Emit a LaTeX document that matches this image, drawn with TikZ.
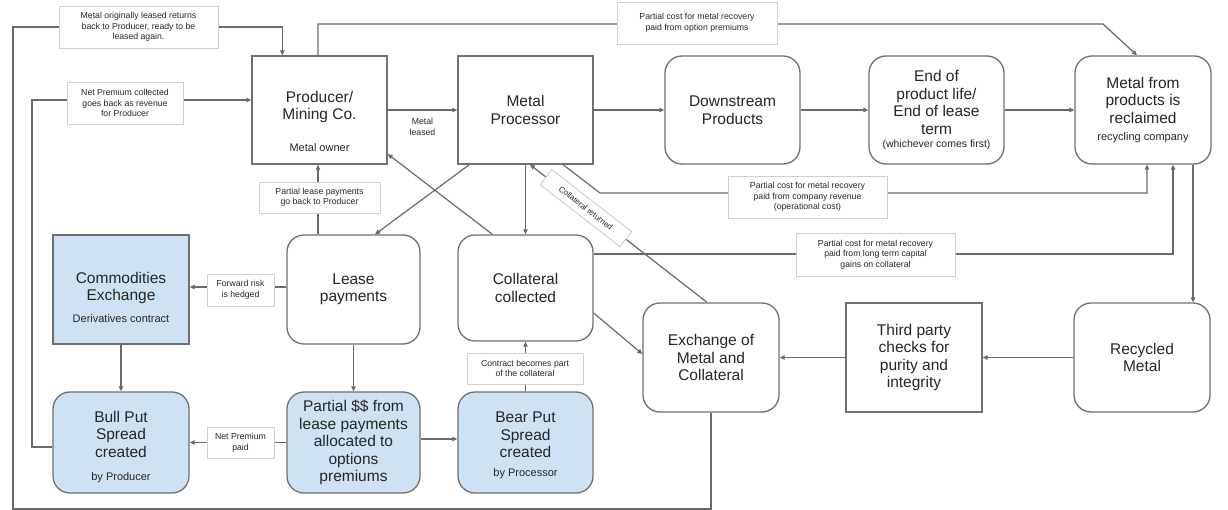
\documentclass[tikz,border=0pt]{standalone}
\usepackage{fontspec}
\setmainfont{Liberation Sans}
\usetikzlibrary{arrows.meta,calc}
\definecolor{lineC}{HTML}{6A6A6A}
\definecolor{boxC}{HTML}{707070}
\definecolor{lblC}{HTML}{CFCFCF}
\definecolor{blueF}{HTML}{CFE2F3}
\definecolor{txtC}{HTML}{262626}
\newcommand{\mainf}{\fontsize{15.5}{17.5}\selectfont}
\newcommand{\subf}{\fontsize{11}{13}\selectfont}
\newcommand{\smallf}{\fontsize{10.5}{12.5}\selectfont}
\newcommand{\lblf}{\fontsize{8.7}{10.5}\selectfont}
\begin{document}
\begin{tikzpicture}[x=1pt,y=-1pt,
  box/.style={draw=boxC, line width=1.3pt, minimum width=135pt, minimum height=108pt, align=center, font=\mainf, text=txtC, inner sep=1pt},
  rbox/.style={box, rounded corners=17pt},
  bluebox/.style={fill=blueF},
  maintxt/.style={align=center, font=\mainf, text=txtC, inner sep=0pt},
  subtxt/.style={font=\subf, text=txtC, inner sep=0pt, anchor=base},
  lbl/.style={draw=lblC, line width=0.9pt, fill=white, align=center, font=\lblf, text=txtC, inner sep=0pt},
  flow/.style={draw=lineC, line width=1.2pt, -{Triangle[length=5pt,width=4.5pt]}},
  ]
\fill[white] (0,0) rectangle (1228,510);
\useasboundingbox (0,0) rectangle (1228,510);

% ---------- main boxes ----------
\node[box] (prod) at (319.5,110) {};
\node[maintxt] (prodT) at (319.5,107) {Producer/\\Mining Co.};
\node[subtxt] (prodS) at (319.5,152) {Metal owner};

\node[box] (proc) at (525.5,110) {Metal\\Processor};
\node[rbox] (down) at (732.5,110) {Downstream\\Products};
\node[rbox] (endp) at (936.5,110) {End of\\product life/\\End of lease\\term\\[-4.5pt]{\smallf (whichever comes first)}};
\node[rbox, minimum width=136pt] (recl) at (1143,110) {Metal from\\products is\\reclaimed\\[-0.5pt]{\subf recycling company}};

\node[box, bluebox, minimum width=136pt, minimum height=109pt] (comm) at (121,289.5) {};
\node[maintxt] (commT) at (121,288) {Commodities\\Exchange};
\node[subtxt] (commS) at (121,323) {Derivatives contract};

\node[rbox, minimum width=133pt, minimum height=109pt] (lease) at (353.5,289.5) {Lease\\payments};
\node[rbox, minimum height=106pt] (coll) at (525.5,288) {Collateral\\collected};
\node[rbox, minimum width=136pt, minimum height=109pt] (exch) at (711,357.5) {Exchange of\\Metal and\\Collateral};
\node[box, minimum width=136pt, minimum height=109pt] (third) at (914,357.5) {Third party\\checks for\\purity and\\integrity};
\node[rbox, minimum width=136pt, minimum height=109pt] (recy) at (1142,357.5) {Recycled\\Metal};

\node[rbox, bluebox, minimum width=136pt, minimum height=101pt] (bull) at (121,442.5) {};
\node[maintxt] (bullT) at (121,434) {Bull Put\\Spread\\created};
\node[subtxt] (bullS) at (121,480) {by Producer};

\node[rbox, bluebox, minimum width=133pt, minimum height=101pt] (part) at (353.5,442.5) {Partial \$\$ from\\lease payments\\allocated to\\options\\premiums};

\node[rbox, bluebox, minimum height=101pt] (bear) at (525.5,442.5) {};
\node[maintxt] (bearT) at (525.5,435) {Bear Put\\Spread\\created};
\node[subtxt] (bearS) at (525.5,476) {by Processor};

% ---------- helper coordinates ----------
\coordinate (loopBL) at (13,509);
\coordinate (loopTL) at (13,27);
\coordinate (premL) at (32,100);
\coordinate (topR) at (1103,24);
\coordinate (revK) at (600,193);

% ---------- connectors ----------
\draw[flow] (exch.south) |- (loopBL) -- (loopTL) -| ([xshift=31pt]prod.north west);
\draw[flow] ([yshift=-4.5pt]bull.west) -| (premL) |- ([yshift=10pt]prod.west);
\draw[flow] (prod.east) -- (proc.west);
\draw[flow] ([xshift=-1.5pt]prod.north) |- (topR) -- ([xshift=-6pt]recl.north);
\draw[flow] (proc.east) -- (down.west);
\draw[flow] (down.east) -- (endp.west);
\draw[flow] (endp.east) -- (recl.west);
\draw[flow] (proc.south) -- (coll.north);
\draw[flow] ([xshift=12pt]proc.south west) -- ([xshift=21.5pt]lease.north);
\draw[flow] ([xshift=35pt]coll.north west) -- ([yshift=-44pt]prod.east);
\draw[flow] ([xshift=-35.5pt]lease.north) -- ([xshift=-1.5pt]prod.south);
\draw[flow] ([xshift=37.5pt]proc.south) -- (revK) -| ([xshift=4pt]recl.south);
\draw[flow] ([yshift=34pt]coll.east) -| ([xshift=30pt]recl.south);
\draw[flow] ([xshift=50pt]recl.south) -- ([xshift=50pt]recl.south |- recy.north);
\draw[flow] (recy.west) -- (third.east);
\draw[flow] (third.west) -- (exch.east);
\draw[flow] ([yshift=-25pt]coll.east) -- ([yshift=3.5pt]exch.west);
\draw[flow] ([xshift=-4pt]exch.north) -- node[lbl, sloped, pos=0.684, minimum width=101pt, minimum height=19pt, font=\fontsize{8}{9.6}\selectfont] (colret) {Collateral returned} ([xshift=4.5pt]proc.south);
\draw[flow] (comm.south) -- (bull.north);
\draw[flow] ([yshift=2.5pt]lease.west) -- ([yshift=2.5pt]lease.west -| comm.east);
\draw[flow] (lease.south) -- (part.north);
\draw[flow] (part.west) -- (bull.east);
\draw[flow] ([yshift=3.5pt]part.east) -- ([yshift=3.5pt]part.east -| bear.west);
\draw[flow] (bear.north) -- (coll.south);

% ---------- labels on connectors ----------
\node[lbl, minimum width=159pt, minimum height=42pt] (l1) at (138.5,27) {Metal originally leased returns\\back to Producer, ready to be\\leased again.};
\node[lbl, minimum width=116pt, minimum height=42pt] (l2) at (125,103) {Net Premium collected\\goes back as revenue\\for Producer};
\node[lbl, minimum width=121pt, minimum height=31pt] (l3) at (319.5,197.5) {Partial lease payments\\go back to Producer};
\node[lbl, minimum width=67pt, minimum height=32pt] (l4) at (240.5,290) {Forward risk\\is hedged};
\node[lbl, minimum width=67pt, minimum height=31pt] (l5) at (240.5,442.5) {Net Premium\\paid};
\node[lbl, minimum width=116pt, minimum height=31pt] (l6) at (525,368.5) {Contract becomes part\\of the collateral};
\node[lbl, minimum width=160pt, minimum height=42pt] (l7) at (697,23) {Partial cost for metal recovery\\paid from option premiums};
\node[lbl, minimum width=159pt, minimum height=42pt] (l8) at (807.5,197) {Partial cost for metal recovery\\paid from company revenue\\(operational cost)};
\node[lbl, minimum width=159pt, minimum height=43pt] (l9) at (875.5,254.5) {Partial cost for metal recovery\\paid from long term capital\\gains on collateral};
\node[font=\lblf, align=center, text=txtC, inner sep=0pt] (ml) at (422.5,127) {Metal\\leased};
\end{tikzpicture}
\end{document}
